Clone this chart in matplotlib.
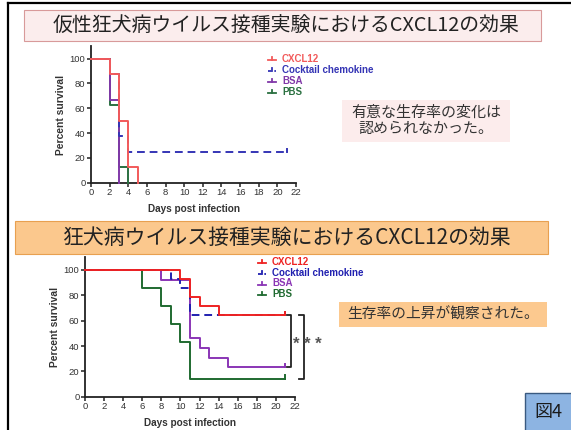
import matplotlib
matplotlib.use("Agg")
import matplotlib.pyplot as plt
from matplotlib.patches import Rectangle
from matplotlib.lines import Line2D

plt.rcParams['font.family'] = ['Liberation Sans', 'DejaVu Sans']
CJK = ['Noto Sans CJK JP', 'DejaVu Sans']

W, H = 571, 430

# ---- data -------------------------------------------------------------
groups = ["CXCL12", "Cocktail chemokine", "BSA", "PBS"]

# pseudorabies virus challenge (upper panel)
top_days = {
    "CXCL12": [0, 2, 3, 4, 5],
    "Cocktail chemokine": [0, 2, 3, 4, 21],
    "BSA": [0, 2, 3],
    "PBS": [0, 2, 3, 4],
}
top_surv = {
    "CXCL12": [100, 87.5, 50, 12.5, 0],
    "Cocktail chemokine": [100, 87.5, 37.5, 25, 25],
    "BSA": [100, 66.7, 0],
    "PBS": [100, 62.5, 12.5, 0],
}
top_censored = ["Cocktail chemokine"]

# rabies virus challenge (lower panel)
bot_days = {
    "CXCL12": [0, 10, 11, 12, 14, 21],
    "Cocktail chemokine": [0, 9, 10, 11, 21],
    "BSA": [0, 8, 11, 12, 13, 15, 21],
    "PBS": [0, 6, 8, 9, 10, 11, 21],
}
bot_surv = {
    "CXCL12": [100, 92.9, 78.6, 71.4, 64.3, 64.3],
    "Cocktail chemokine": [100, 92.9, 85.7, 64.3, 64.3],
    "BSA": [100, 92.3, 46.2, 38.5, 30.8, 23.1, 23.1],
    "PBS": [100, 85.7, 71.4, 57.1, 42.9, 14.3, 14.3],
}
bot_censored = ["CXCL12", "Cocktail chemokine", "BSA", "PBS"]

x_ticks = list(range(0, 23, 2))
y_ticks = [0, 20, 40, 60, 80, 100]

top_title = "仮性狂犬病ウイルス接種実験におけるCXCL12の効果"
bot_title = "狂犬病ウイルス接種実験におけるCXCL12の効果"
top_note = "有意な生存率の変化は\n認められなかった。"
bot_note = "生存率の上昇が観察された。"
fig_label = "図4"

colors_top = {"CXCL12": "#f25a5a", "Cocktail chemokine": "#3535b5",
              "BSA": "#8038a8", "PBS": "#2a7040"}
colors_bot = {"CXCL12": "#ee2222", "Cocktail chemokine": "#2020b0",
              "BSA": "#8a35b5", "PBS": "#1f6a30"}
dashes = {"CXCL12": "-", "Cocktail chemokine": (0, (4, 2.5)),
          "BSA": "-", "PBS": "-"}


def fx(x):
    return x / W


def fy(y):
    return 1 - y / H


fig = plt.figure(figsize=(W / 100, H / 100), dpi=100)
fig.patch.set_facecolor("white")

# slide frame
fig.add_artist(Line2D([fx(8), fx(8)], [fy(3), fy(430)], color="black", lw=1.6))
fig.add_artist(Line2D([fx(8), fx(571)], [fy(3), fy(3)], color="black", lw=1.6))


def box(x0, y0, x1, y1, fc, ec=None, lw=0.8):
    fig.add_artist(Rectangle((fx(x0), fy(y1)), fx(x1 - x0), (y1 - y0) / H,
                             transform=fig.transFigure, facecolor=fc,
                             edgecolor=ec if ec else "none", lw=lw))


# title banners
box(24, 10, 541, 41, "#fbeded", "#d89a9a")
fig.text(fx(286), fy(26), top_title, family=CJK, fontsize=14.3,
         ha="center", va="center", color="#222222")
box(15, 221, 548, 254, "#fbc88d", "#e8a050")
fig.text(fx(287), fy(238), bot_title, family=CJK, fontsize=15,
         ha="center", va="center", color="#222222")


def survival_axes(rect, days, surv, censored, colors, lw):
    ax = fig.add_axes(rect)
    for g in groups[::-1]:
        ax.step(days[g], surv[g], where="post", color=colors[g], lw=lw,
                linestyle=dashes[g], clip_on=False, zorder=3)
        if g in censored:
            ax.plot([days[g][-1], days[g][-1]], [surv[g][-1], surv[g][-1] + 2.5],
                    color=colors[g], lw=lw, clip_on=False, zorder=3)
    ax.set_xlim(0, 22)
    ax.set_ylim(0, 110)
    ax.set_xticks(x_ticks)
    ax.set_yticks(y_ticks)
    for s in ["top", "right"]:
        ax.spines[s].set_visible(False)
    for s in ["left", "bottom"]:
        ax.spines[s].set_linewidth(1.3)
        ax.spines[s].set_color("#222222")
    ax.tick_params(direction="out", length=3, width=1.1, labelsize=6.8,
                   pad=1.0, colors="#222222", labelcolor="#333333")
    ax.set_xlabel("Days post infection", fontsize=7.2, fontweight="bold",
                  color="#333333", labelpad=5)
    ax.set_ylabel("Percent survival", fontsize=7.4, fontweight="bold",
                  color="#333333", labelpad=3)
    ax.patch.set_alpha(0)
    return ax


ax1 = survival_axes([fx(91), fy(182.7), fx(205), 136.4 / H],
                    top_days, top_surv, top_censored, colors_top, 1.4)
ax2 = survival_axes([fx(85), fy(396.7), fx(210), 139.4 / H],
                    bot_days, bot_surv, bot_censored, colors_bot, 1.4)


def legend(x_mark, x_text, ys, colors):
    for g, y in zip(groups, ys):
        c = colors[g]
        ls = "-" if g != "Cocktail chemokine" else (0, (2, 1.5))
        fig.add_artist(Line2D([fx(x_mark - 4), fx(x_mark + 4)], [fy(y + 1), fy(y + 1)],
                              color=c, lw=1.3, linestyle=ls))
        fig.add_artist(Line2D([fx(x_mark), fx(x_mark)], [fy(y + 1), fy(y - 2)],
                              color=c, lw=1.3))
        fig.text(fx(x_text), fy(y), g, fontsize=7.0, fontweight="bold",
                 color=c, ha="left", va="center")


legend(272, 282, [59, 70, 81, 92], colors_top)
legend(262, 272, [262, 273, 283.5, 294], colors_bot)

# notes
box(342, 100, 510, 142, "#fcecec")
fig.text(fx(426), fy(121), top_note, family=CJK, fontsize=10.8,
         ha="center", va="center", color="#333333", linespacing=1.25)
box(339, 302, 547, 327, "#fcc98f")
fig.text(fx(443), fy(314.5), bot_note, family=CJK, fontsize=10.6,
         ha="center", va="center", color="#333333")

# significance brackets (lower panel)
def bracket(x, y_top, y_bot, arm):
    ax2.plot([x - arm, x, x, x - arm], [y_top, y_top, y_bot, y_bot],
             color="#222222", lw=1.3, clip_on=False)


bracket(21.55, bot_surv["CXCL12"][-1], bot_surv["BSA"][-1], 0.4)
bracket(22.95, bot_surv["CXCL12"][-1], bot_surv["PBS"][-1], 0.55)
ax2.text(22.15, 41, "*", fontsize=12, fontweight="bold", color="#555555",
         ha="center", va="center")
ax2.text(23.9, 41, "* *", fontsize=12, fontweight="bold", color="#555555",
         ha="center", va="center")

# figure number tag
box(525, 393, 575, 432, "#8db4e2", "#3a5a80", lw=1.0)
fig.text(fx(548), fy(412), fig_label, family=CJK, fontsize=13,
         ha="center", va="center", color="#1a1a1a")

fig.savefig("out.png", dpi=100)
